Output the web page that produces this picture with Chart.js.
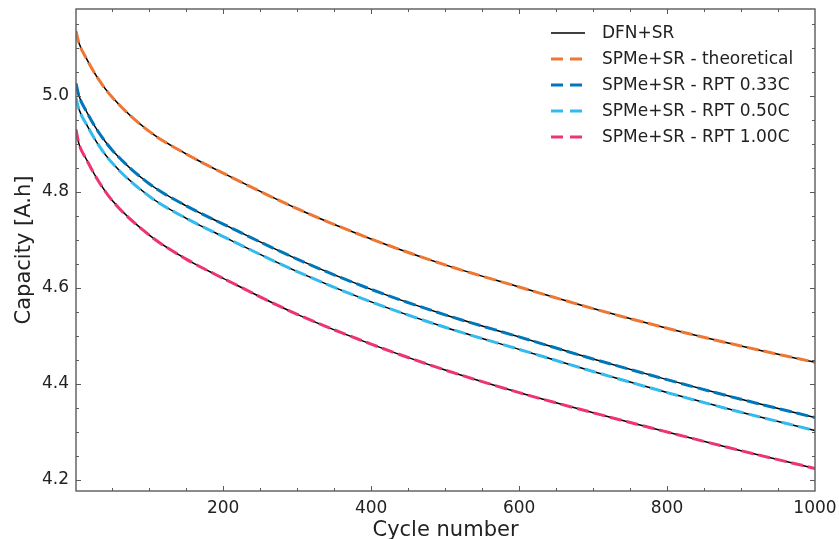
<!DOCTYPE html>
<html>
<head>
<meta charset="utf-8">
<script src="https://cdn.jsdelivr.net/npm/chart.js@4.4.1/dist/chart.umd.min.js"></script>
<style>
  html, body { margin: 0; padding: 0; background: #fff; }
</style>
</head>
<body>
<canvas id="myChart" width="839" height="539"></canvas>
<script>
// cycle numbers and capacities [A.h]
const cycles = [1, 5, 15, 30, 50, 100, 150, 200, 300, 400, 500, 600, 700, 800, 900, 1000];
const capTheoretical = [5.135, 5.11, 5.078, 5.038, 4.997, 4.926, 4.879, 4.839, 4.765, 4.702, 4.648, 4.602, 4.557, 4.516, 4.479, 4.445];
const capRpt033 = [5.026, 5.0, 4.968, 4.928, 4.887, 4.817, 4.771, 4.733, 4.66, 4.597, 4.544, 4.498, 4.452, 4.409, 4.368, 4.330];
const capRpt050 = [4.996, 4.972, 4.941, 4.901, 4.86, 4.791, 4.745, 4.707, 4.634, 4.571, 4.518, 4.472, 4.426, 4.382, 4.341, 4.303];
const capRpt100 = [4.93, 4.9, 4.868, 4.826, 4.782, 4.71, 4.66, 4.62, 4.545, 4.483, 4.429, 4.382, 4.34, 4.3, 4.261, 4.224];
// DFN+SR reference runs sit on top of the SPMe curves
const dfnTheoretical = capTheoretical;
const dfnRpt033 = capRpt033;
const dfnRpt050 = capRpt050;
const dfnRpt100 = capRpt100;

const xTicks = [200, 400, 600, 800, 1000];
const yTicks = [4.2, 4.4, 4.6, 4.8, 5.0];

const labels = ['DFN+SR', 'SPMe+SR - theoretical', 'SPMe+SR - RPT 0.33C', 'SPMe+SR - RPT 0.50C', 'SPMe+SR - RPT 1.00C'];
const colors = ['#000000', '#EE7733', '#0077BB', '#33BBEE', '#EE3377'];

function pts(ys) {
    return cycles.map((c, i) => ({x: c, y: ys[i]}));
}

function spme(i, ys) {
    return {
        label: labels[i], data: pts(ys), borderColor: colors[i],
        borderWidth: 3, borderDash: [12, 5], pointRadius: 0,
        cubicInterpolationMode: 'monotone', fill: false
    };
}

function dfn(ys) {
    return {
        label: labels[0], data: pts(ys), borderColor: colors[0],
        borderWidth: 1.5, pointRadius: 0,
        cubicInterpolationMode: 'monotone', fill: false
    };
}

// box with inward ticks on all four sides
const frameTicks = {
    id: 'frameTicks',
    afterDraw(chart) {
        const {ctx, chartArea: a, scales: {x, y}} = chart;
        ctx.save();
        ctx.strokeStyle = '#5a5a5a';
        ctx.lineWidth = 1;
        const line = (x1, y1, x2, y2) => {
            ctx.beginPath(); ctx.moveTo(x1, y1); ctx.lineTo(x2, y2); ctx.stroke();
        };
        for (let v = 50; v < 1000; v += 50) {
            const px = Math.round(x.getPixelForValue(v)) + 0.5;
            const len = v % 200 === 0 ? 5 : 3;
            line(px, a.bottom, px, a.bottom - len);
            line(px, a.top, px, a.top + len);
        }
        for (let k = 84; k <= 103; k++) {
            const py = Math.round(y.getPixelForValue(k * 0.05)) + 0.5;
            const len = k % 4 === 0 ? 5 : 3;
            line(a.left, py, a.left + len, py);
            line(a.right, py, a.right - len, py);
        }
        ctx.lineWidth = 1.4;
        ctx.strokeRect(a.left, a.top, a.right - a.left, a.bottom - a.top);
        ctx.restore();
    }
};

const boxLegend = {
    id: 'boxLegend',
    afterDraw(chart) {
        const ctx = chart.ctx;
        ctx.save();
        ctx.font = '17px "DejaVu Sans"';
        ctx.textBaseline = 'middle';
        labels.forEach((lab, i) => {
            const yy = 33 + i * 26;
            ctx.beginPath();
            ctx.strokeStyle = colors[i];
            if (i === 0) {
                ctx.lineWidth = 1.5;
                ctx.setLineDash([]);
            } else {
                ctx.lineWidth = 3;
                ctx.setLineDash([12, 7]);
            }
            ctx.moveTo(551, yy);
            ctx.lineTo(585, yy);
            ctx.stroke();
            ctx.setLineDash([]);
            ctx.fillStyle = '#222';
            ctx.fillText(lab, 602, yy + 1);
        });
        ctx.restore();
    }
};

Chart.defaults.font.family = '"DejaVu Sans", sans-serif';
Chart.defaults.font.size = 17;
Chart.defaults.color = '#222';

const ctx = document.getElementById('myChart').getContext('2d');
const chart = new Chart(ctx, {
    type: 'line',
    data: {
        datasets: [
            spme(1, capTheoretical),
            spme(2, capRpt033),
            spme(3, capRpt050),
            spme(4, capRpt100),
            dfn(dfnTheoretical),
            dfn(dfnRpt033),
            dfn(dfnRpt050),
            dfn(dfnRpt100)
        ]
    },
    options: {
        responsive: false,
        animation: false,
        devicePixelRatio: 1,
        layout: {padding: {top: 9, right: 24, left: 0, bottom: 0}},
        plugins: {legend: {display: false}, tooltip: {enabled: false}},
        scales: {
            x: {
                type: 'linear', min: 1, max: 1000,
                grid: {display: false, drawTicks: false},
                border: {display: false},
                afterBuildTicks: s => { s.ticks = xTicks.map(v => ({value: v})); },
                afterFit: s => { s.height = 48; s.paddingLeft = 0; s.paddingRight = 0; },
                ticks: {padding: 7, maxRotation: 0, callback: v => String(v)},
                title: {display: true, text: 'Cycle number', font: {size: 21, lineHeight: 1}, padding: {top: 0, bottom: -2}}
            },
            y: {
                type: 'linear', min: 4.177, max: 5.181,
                grid: {display: false, drawTicks: false},
                border: {display: false},
                afterBuildTicks: s => { s.ticks = yTicks.map(v => ({value: v})); },
                afterFit: s => { s.width = 76; s.paddingTop = 0; s.paddingBottom = 0; },
                ticks: {padding: 7, callback: v => v.toFixed(1)},
                title: {display: true, text: 'Capacity [A.h]', font: {size: 21, lineHeight: 1}, padding: {top: 14, bottom: 0}}
            }
        }
    },
    plugins: [frameTicks, boxLegend]
});
</script>
</body>
</html>
